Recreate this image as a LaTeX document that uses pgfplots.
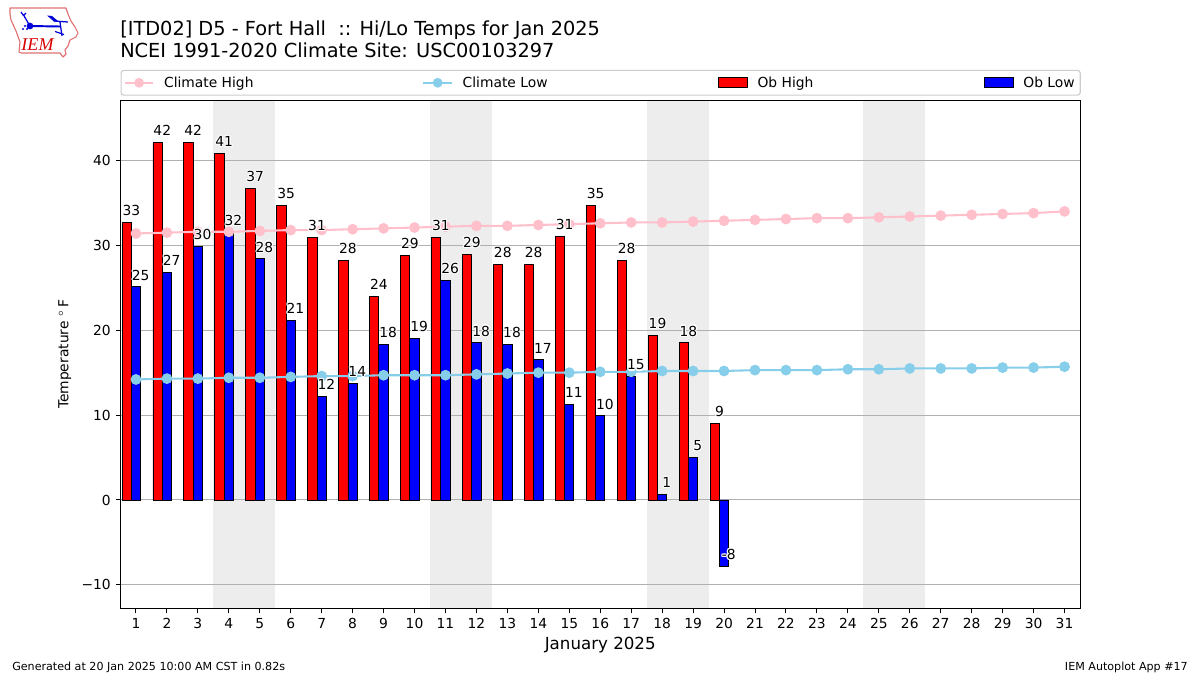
\documentclass[border=0pt]{standalone}
\usepackage{fontspec}
\setmainfont{DejaVu Sans}
\newfontfamily\logofont{Liberation Serif}
\usepackage{pgfplots}
\pgfplotsset{compat=1.18}
\usepackage{pgfplotstable}

\definecolor{climhigh}{HTML}{FFC0CB}
\definecolor{climlow}{HTML}{87CEEB}
\definecolor{wkend}{HTML}{EDEDED}
\definecolor{gridc}{HTML}{B0B0B0}
\definecolor{logored}{HTML}{E07070}

% white halo behind the value labels
\newcommand\hc[3]{\rlap{\kern#1\raise#2\hbox{\color{white}#3}}}
\newcommand\halo[1]{\hc{.8pt}{0pt}{#1}\hc{-.8pt}{0pt}{#1}\hc{0pt}{.8pt}{#1}\hc{0pt}{-.8pt}{#1}%
  \hc{.6pt}{.6pt}{#1}\hc{-.6pt}{.6pt}{#1}\hc{.6pt}{-.6pt}{#1}\hc{-.6pt}{-.6pt}{#1}#1}

\pgfplotstableread{
day high hlab low llab
1 32.7 33 25.1 25
2 42.1 42 26.8 27
3 42.1 42 29.9 30
4 40.8 41 31.5 32
5 36.7 37 28.4 28
6 34.7 35 21.2 21
7 30.9 31 12.2 12
8 28.2 28 13.7 14
9 24.0 24 18.3 18
10 28.8 29 19.0 19
11 30.9 31 25.9 26
12 28.9 29 18.5 18
13 27.8 28 18.3 18
14 27.7 28 16.5 17
15 31.1 31 11.3 11
16 34.7 35 9.9 10
17 28.2 28 14.5 15
18 19.4 19 0.7 1
19 18.5 18 5.0 5
20 9.0 9 -7.8 -8
}\obs

\pgfplotstableread{
day chigh clow
1 31.4 14.2
2 31.5 14.3
3 31.6 14.3
4 31.6 14.4
5 31.7 14.4
6 31.8 14.5
7 31.8 14.6
8 31.9 14.6
9 32.0 14.7
10 32.1 14.7
11 32.2 14.7
12 32.3 14.8
13 32.3 14.9
14 32.4 15.0
15 32.5 15.0
16 32.6 15.1
17 32.7 15.1
18 32.7 15.2
19 32.8 15.2
20 32.9 15.2
21 33.0 15.3
22 33.1 15.3
23 33.2 15.3
24 33.2 15.4
25 33.3 15.4
26 33.4 15.5
27 33.5 15.5
28 33.6 15.5
29 33.7 15.6
30 33.8 15.6
31 34.0 15.7
}\climdata

\begin{document}
\begin{tikzpicture}
\path (0,0) rectangle (864bp,486bp);
\begin{axis}[
  set layers,
  at={(86.76bp,47.9bp)},anchor=south west,
  scale only axis,
  width=690.84bp,height=365.76bp,
  xmin=0.5,xmax=31.5,
  ymin=-12.78,ymax=47.07,
  xtick={1,...,31},
  ytick={-10,0,10,20,30,40},
  yticklabels={−10,0,10,20,30,40},
  /pgf/number format/assume math mode=true,
  tick align=outside,
  tick pos=left,
  major tick length=3.5bp,
  every tick/.style={black,line width=0.72bp},
  axis line style={line width=0.72bp},
  ymajorgrids,
  grid style={gridc,line width=0.72bp},
  xlabel={\fontsize{12bp}{14bp}\selectfont January 2025},
  xlabel style={at={(axis description cs:0.5,0)},anchor=base,yshift=-29.4bp},
  ylabel={Temperature\,\,$^\circ$\,F},
  ylabel style={at={(axis description cs:0,0.5)},anchor=base,yshift=37.5bp},
  legend columns=4,
  legend cell align=left,
  legend style={at={(0,1)},anchor=south west,yshift=3.4bp,
    draw=black!20,rounded corners=2bp,line width=0.8bp,
    inner xsep=2bp,inner ysep=2.4bp,
    /tikz/column 1/.style={column sep=5bp},
    /tikz/column 3/.style={column sep=5bp},
    /tikz/column 5/.style={column sep=5bp},
    /tikz/column 7/.style={column sep=5bp},
    /tikz/column 2/.style={column sep=119.6bp},
    /tikz/column 4/.style={column sep=121bp},
    /tikz/column 6/.style={column sep=121bp},
  },
]
% weekends
\addplot[fill=wkend,draw=none,forget plot,on layer=axis background] coordinates {(3.5,-12.78) (5.5,-12.78) (5.5,47.07) (3.5,47.07)};
\addplot[fill=wkend,draw=none,forget plot,on layer=axis background] coordinates {(10.5,-12.78) (12.5,-12.78) (12.5,47.07) (10.5,47.07)};
\addplot[fill=wkend,draw=none,forget plot,on layer=axis background] coordinates {(17.5,-12.78) (19.5,-12.78) (19.5,47.07) (17.5,47.07)};
\addplot[fill=wkend,draw=none,forget plot,on layer=axis background] coordinates {(24.5,-12.78) (26.5,-12.78) (26.5,47.07) (24.5,47.07)};

% legend entries, in the reference's order
\addlegendimage{legend image code/.code={
  \draw[climhigh,line width=1.5bp] (0,0) -- (20.5bp,0);
  \fill[climhigh] (10.25bp,0) circle (3.1bp);}}
\addlegendentry{Climate High}
\addlegendimage{legend image code/.code={
  \draw[climlow,line width=1.5bp] (0,0) -- (20.5bp,0);
  \fill[climlow] (10.25bp,0) circle (3.1bp);}}
\addlegendentry{Climate Low}
\addlegendimage{legend image code/.code={
  \draw[black,fill=red,line width=0.7bp,sharp corners] (0,-3.6bp) rectangle (20.5bp,3.6bp);}}
\addlegendentry{Ob High}
\addlegendimage{legend image code/.code={
  \draw[black,fill=blue,line width=0.7bp,sharp corners] (0,-3.6bp) rectangle (20.5bp,3.6bp);}}
\addlegendentry{Ob Low}

% bars
\addplot[ybar,bar width=6.69bp,bar shift=0pt,draw=black,fill=red,line width=0.7bp,forget plot] table[x expr=\thisrow{day}-0.3,y=high] {\obs};
\addplot[ybar,bar width=6.69bp,bar shift=0pt,draw=black,fill=blue,line width=0.7bp,forget plot] table[x=day,y=low] {\obs};

% climatology
\addplot[climhigh,line width=1.5bp,mark=*,mark size=3.1bp,mark options={draw=none,fill=climhigh},forget plot] table[x=day,y=chigh] {\climdata};
\addplot[climlow,line width=1.5bp,mark=*,mark size=3.1bp,mark options={draw=none,fill=climlow},forget plot] table[x=day,y=clow] {\climdata};

% value labels
\addplot[draw=none,mark=none,forget plot,point meta=explicit symbolic,
  nodes near coords={\halo{\pgfplotspointmeta}},
  every node near coord/.style={anchor=center,yshift=8.6bp,inner sep=0pt,black}]
  table[x expr=\thisrow{day}-0.15,y=high,meta=hlab] {\obs};
\addplot[draw=none,mark=none,forget plot,point meta=explicit symbolic,
  nodes near coords={\halo{\pgfplotspointmeta}},
  every node near coord/.style={anchor=center,yshift=8.6bp,inner sep=0pt,black}]
  table[x expr=\thisrow{day}+0.15,y=low,meta=llab] {\obs};
\end{axis}

\begin{scope}[x=0.72bp,y=-0.72bp,shift={(0,-675)}]
% titles
\node[anchor=base west,inner sep=0pt,font=\fontsize{13.92bp}{16bp}\selectfont] at (120,35) {[ITD02] D5 - Fort Hall\ \ :: Hi/Lo Temps for Jan 2025};
\node[anchor=base west,inner sep=0pt,font=\fontsize{13.92bp}{16bp}\selectfont] at (120,57.4) {NCEI 1991-2020 Climate Site: USC00103297};

% footer
\node[anchor=base west,inner sep=0pt,font=\fontsize{8bp}{10bp}\selectfont] at (12,670) {Generated at 20 Jan 2025 10:00 AM CST in 0.82s};
\node[anchor=base east,inner sep=0pt,font=\fontsize{8bp}{10bp}\selectfont] at (1188,670) {IEM Autoplot App \#17};

% IEM logo
\draw[logored,line width=0.8bp,line join=round] (10,8) -- (66,8) -- (68,14) -- (71,21) -- (75,27) -- (78,33) -- (76,37) -- (70,40) -- (68,46) -- (65,50) -- (66,54) -- (63,57) -- (60,53) -- (21,53) -- (19,52) -- (20,42) -- (16,31) -- (11,20) -- (10,14) -- cycle;
\fill[blue!85!black] (47,15.5) -- (52,16) -- (58,21) -- (54,21.5) -- cycle;
\draw[blue!85!black,line width=1.4bp] (30,26) -- (60,26.5);
\draw[blue!85!black,line width=0.9bp] (54,21) -- (68,22) (60,22) -- (62,36) (55,31.5) -- (64,34.5) (30,26) -- (23.5,15) (21,12) -- (23.5,15.5) (26,13) -- (23.5,15.5);
\fill[blue!85!black] (30,26) circle (2.4bp) (25,26) circle (0.8bp) (23,29) circle (0.8bp) (27,29) circle (0.8bp);
\node[red!85!black,inner sep=0pt,anchor=base,font=\logofont\itshape\fontsize{13bp}{15bp}\selectfont] at (37.5,50) {IEM};
\end{scope}
\end{tikzpicture}
\end{document}
